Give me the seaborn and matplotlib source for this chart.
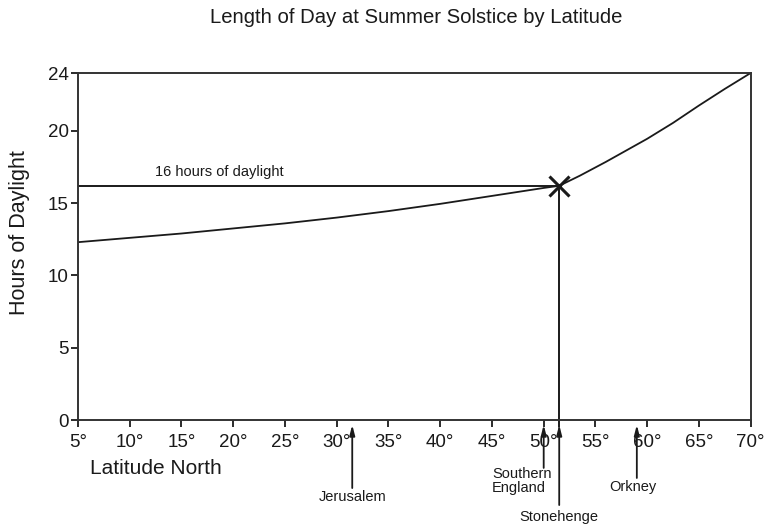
import matplotlib
matplotlib.use("Agg")
import matplotlib.pyplot as plt
import matplotlib.transforms as mtransforms
import seaborn as sns
import pandas as pd

# Values
LATITUDES = [5, 10, 15, 20, 25, 30, 35, 40, 45, 50, 51.5, 53.5, 56, 58, 60, 62.5, 65, 67.5, 70]
DAY_HOURS = [12.3, 12.6, 12.9, 13.25, 13.6, 14.0, 14.45, 14.95, 15.5, 16.05, 16.2,
             16.9, 17.85, 18.65, 19.45, 20.55, 21.75, 22.9, 24.0]

X_TICKS = [5, 10, 15, 20, 25, 30, 35, 40, 45, 50, 55, 60, 65, 70]
Y_TICKS = [0, 5, 10, 15, 20, 24]

STONEHENGE_LAT = 51.5
STONEHENGE_HOURS = 16.2

PLACES = ["Jerusalem", "Southern\nEngland", "Stonehenge", "Orkney"]
PLACE_LATS = [31.5, 50.0, 51.5, 59.0]

INK = "#1a1a1a"

sns.set_theme(style="ticks")
plt.rcParams["font.family"] = ["Liberation Sans", "DejaVu Sans"]

df = pd.DataFrame({"lat": LATITUDES, "hours": DAY_HOURS})

fig = plt.figure(figsize=(7.67, 5.29), dpi=100)
ax = fig.add_axes([0.1017, 0.206, 0.877, 0.656])

sns.lineplot(data=df, x="lat", y="hours", ax=ax, color=INK, lw=1.3)

# guide lines to the Stonehenge point
ax.plot([LATITUDES[0], STONEHENGE_LAT], [STONEHENGE_HOURS, STONEHENGE_HOURS], color=INK, lw=1.4)
ax.plot([STONEHENGE_LAT, STONEHENGE_LAT], [STONEHENGE_HOURS, 0], color=INK, lw=1.4)
ax.plot([STONEHENGE_LAT], [STONEHENGE_HOURS], marker="x", ms=14, mew=2.2, color=INK)
ax.text(12.4, STONEHENGE_HOURS + 0.45, "16 hours of daylight", fontsize=10.5, color=INK,
        ha="left", va="bottom")

ax.set_xlim(5, 70)
ax.set_ylim(0, 24)
ax.set_xticks(X_TICKS)
ax.set_xticklabels([f"{t}°" for t in X_TICKS], fontsize=13.5, color=INK)
ax.set_yticks(Y_TICKS)
ax.set_yticklabels([str(t) for t in Y_TICKS], fontsize=13.5, color=INK)
ax.tick_params(axis="x", length=5, width=1.3, pad=5, colors=INK)
ax.tick_params(axis="y", length=5, width=1.3, pad=1.5, colors=INK)
ax.set_xlabel("")
ax.set_ylabel("")
for s in ax.spines.values():
    s.set_visible(True)
    s.set_linewidth(1.4)
    s.set_color("#333333")

fig.text(0.026, 0.56, "Hours of Daylight", rotation=90, fontsize=15.5, color=INK,
         ha="center", va="center")
ax.text(0.018, -0.14, "Latitude North", transform=ax.transAxes, fontsize=15, color=INK,
        ha="left", va="center")
fig.text(0.542, 0.966, "Length of Day at Summer Solstice by Latitude", fontsize=14.6,
         color=INK, ha="center", va="center")

# place markers below the axis
trans = mtransforms.blended_transform_factory(ax.transData, ax.transAxes)
tails = [-0.196, -0.138, -0.245, -0.167]
label_x = [31.5, 45.0, 51.5, 58.6]
label_y = [-0.203, -0.135, -0.26, -0.172]
label_ha = ["center", "left", "center", "center"]
for name, lat, tail, lx, ly, ha in zip(PLACES, PLACE_LATS, tails, label_x, label_y, label_ha):
    ax.annotate("", xy=(lat, -0.014), xycoords=trans, xytext=(lat, tail), textcoords=trans,
                arrowprops=dict(arrowstyle="-|>,head_length=0.5,head_width=0.13",
                                color=INK, lw=1.3, shrinkA=0, shrinkB=0),
                annotation_clip=False)
    ax.text(lx, ly, name, transform=trans, fontsize=10.5, color=INK, ha=ha, va="top",
            multialignment="left", linespacing=1.0)

# stonehenge line runs through the axis
ax.plot([STONEHENGE_LAT, STONEHENGE_LAT], [0, -0.02], transform=trans, color=INK, lw=1.4,
        clip_on=False)

fig.savefig("out.png", dpi=100)
